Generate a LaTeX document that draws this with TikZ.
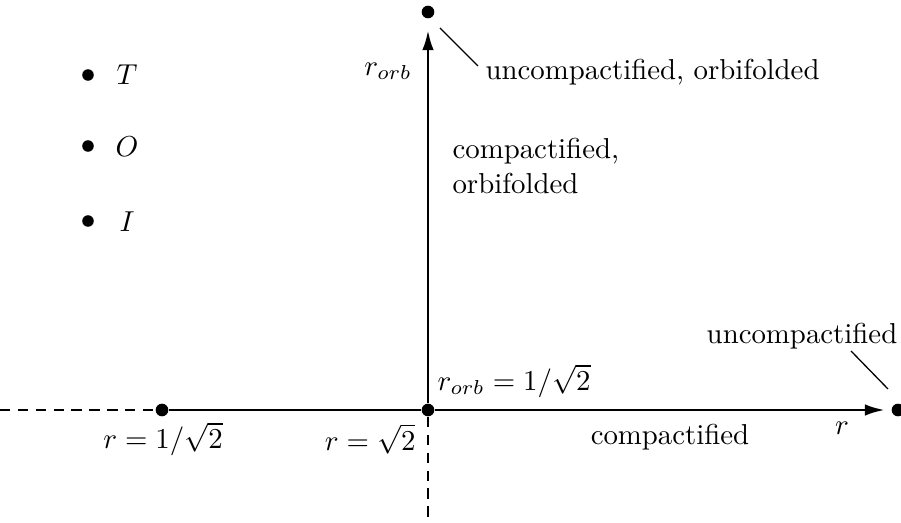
\documentclass[tikz,border=0pt]{standalone}
\usetikzlibrary{arrows.meta}
\begin{document}
\begin{tikzpicture}[x=0.347pt,y=-0.347pt,
  dot/.style={circle,fill,inner sep=0pt,minimum size=4.4pt},
  ldot/.style={circle,fill,inner sep=0pt,minimum size=4pt},
  axis/.style={line width=1pt},
  dsh/.style={axis,dash pattern=on 3.6pt off 2.6pt},
  lbl/.style={inner sep=0pt},
  thinline/.style={line width=0.45pt}]
\useasboundingbox (0,0) rectangle (901,523);
% points
\node[dot] (a) at (162,410) {};
\node[dot] (o) at (428,410) {};
\node[dot] (rr) at (898,410) {};
\node[dot] (tt) at (428,12) {};
\coordinate (L) at (0,410);
\coordinate (B) at (428,523);
\coordinate (ax) at (885,410);
\coordinate (ay) at (428,30);
% axes
\draw[dsh] (L) -- (a);
\draw[axis] (a) -- (o);
\draw[axis,-{Latex[length=7pt,width=4pt]}] (o) -- (ax);
\draw[axis,-{Latex[length=7pt,width=4pt]}] (o) -- (ay);
\draw[dsh] (o) -- (B);
% labels
\node[lbl] (rorb) at (388,71) {$r_{orb}$};
\node[lbl,anchor=west] (uo) at (485,72) {uncompactified, orbifolded};
\coordinate (c1) at (440,28);
\coordinate (c2) at (478,66);
\draw[thinline] (c1) -- (c2);
\node[lbl,anchor=north west,align=left] (co) at (452,138) {compactified,\\orbifolded};
\node[lbl] (uc) at (802,336) {uncompactified};
\coordinate (d1) at (851,351);
\coordinate (d2) at (888,389);
\draw[thinline] (d1) -- (d2);
\node[lbl,anchor=west] (ro) at (437,381) {$r_{orb}=1/\sqrt{2}$};
\node[lbl] (r1) at (163,439) {$r=1/\sqrt{2}$};
\node[lbl,anchor=east] (r2) at (416,439) {$r=\sqrt{2}$};
\node[lbl] (cc) at (670,437) {compactified};
\node[lbl] (rl) at (842,428) {$r$};
% legend
\node[ldot] (bt) at (88,75) {};
\node[lbl] (T) at (127,75) {$T$};
\node[ldot] (bo) at (88,146) {};
\node[lbl] (O) at (127,147) {$O$};
\node[ldot] (bi) at (88,221) {};
\node[lbl] (I) at (127,222) {$I$};
\end{tikzpicture}
\end{document}
